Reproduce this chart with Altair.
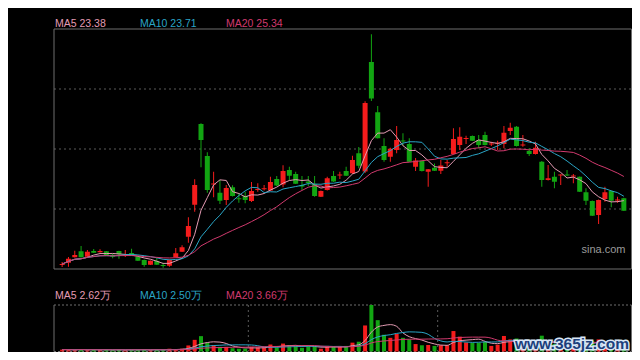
import altair as alt
import pandas as pd

# ---- data ----
OPEN = [18.12,18.30,18.74,19.22,18.78,19.24,19.14,19.22,18.94,19.24,
        18.84,19.08,18.78,18.52,18.14,18.44,18.12,18.06,18.74,19.18,
        20.38,22.94,29.40,26.84,24.56,23.90,23.32,24.34,23.46,23.64,
        23.24,24.12,24.18,24.08,25.00,24.56,25.72,25.40,24.52,24.80,
        24.60,23.58,24.12,25.24,25.28,25.64,25.46,27.06,25.60,34.36,
        30.34,27.64,26.78,27.32,28.08,27.80,25.98,26.44,25.58,25.90,
        25.66,26.26,27.00,27.72,28.20,28.44,28.12,28.52,27.76,27.82,
        27.80,28.84,29.18,27.68,27.24,27.00,26.38,24.92,25.18,25.28,
        25.36,25.20,25.18,23.94,23.24,22.12,23.40,24.04,23.28,23.46]
CLOSE = [18.20,18.62,18.92,18.74,19.18,19.10,19.24,18.92,18.78,18.98,
         18.92,18.94,18.46,18.12,18.46,18.14,18.04,18.52,19.06,19.54,
         21.24,24.52,28.12,24.12,24.64,23.26,24.28,23.64,23.38,23.32,
         24.04,24.20,24.26,24.76,24.48,25.64,25.26,24.62,24.40,24.68,
         23.64,24.04,25.06,24.80,25.36,25.26,26.52,26.06,31.08,31.44,
         28.26,26.52,27.42,28.12,28.00,26.38,26.48,25.64,25.78,25.66,
         26.08,26.34,28.20,28.38,28.28,28.06,27.72,27.72,27.84,27.90,
         28.70,29.10,27.64,27.76,27.00,27.50,24.92,25.06,24.78,25.36,
         25.28,25.28,23.98,23.26,22.06,23.32,23.94,23.26,23.36,22.46]
HIGH = [18.36,18.76,19.26,19.64,19.32,19.40,19.38,19.24,19.00,19.26,
        19.32,19.42,18.80,18.56,18.48,18.68,18.30,18.56,19.48,19.70,
        21.94,24.98,29.46,27.14,25.58,24.92,24.52,24.50,23.86,23.98,
        24.76,24.66,24.52,25.18,25.24,26.10,25.98,25.58,25.24,25.24,
        25.24,24.08,25.18,25.64,25.58,25.98,26.86,27.56,31.22,36.58,
        30.84,28.26,27.50,29.24,28.66,28.26,26.68,26.48,25.80,26.24,
        26.52,26.52,29.06,29.14,28.46,28.48,28.52,28.78,27.98,28.06,
        29.24,29.50,29.24,28.52,27.46,27.98,26.44,26.12,25.58,25.38,
        25.72,25.40,25.20,24.26,23.28,23.36,24.38,24.08,23.58,23.50]
LOW = [17.96,17.98,18.72,18.72,18.76,19.08,19.12,18.90,18.66,18.62,
       18.76,18.92,18.44,17.98,18.12,18.12,17.90,17.98,18.72,19.16,
       19.90,22.38,25.94,23.90,23.54,23.00,22.92,23.60,23.10,23.06,
       23.16,23.98,24.08,24.04,24.44,24.34,24.86,24.60,24.12,24.44,
       23.58,23.56,24.08,24.76,25.00,25.24,25.40,25.86,25.48,31.24,
       28.24,26.38,26.38,27.06,27.68,26.36,25.64,25.60,24.38,25.64,
       25.40,25.98,26.96,27.32,27.80,28.04,27.46,27.68,27.64,27.32,
       27.46,28.52,27.60,27.58,26.84,26.96,24.38,24.88,24.26,24.52,
       25.24,24.66,23.96,22.92,22.04,21.40,23.18,22.74,23.10,22.44]
VOL = [0.54,0.54,0.41,0.68,0.41,0.54,0.41,0.54,0.41,0.54,
       0.41,0.54,0.54,0.54,0.41,0.54,0.41,0.81,0.68,0.81,
       1.76,3.38,4.46,2.57,1.89,1.35,1.35,0.95,0.81,0.81,
       1.35,1.22,1.22,2.03,1.08,2.30,1.89,1.62,1.08,1.49,
       1.35,0.81,1.62,1.35,1.35,1.62,2.57,2.84,7.56,13.50,
       9.10,4.86,3.97,5.13,3.97,3.51,2.16,1.81,1.89,1.62,
       1.81,1.81,5.94,4.32,2.62,2.51,2.51,2.78,1.62,1.97,
       4.51,3.51,3.78,2.16,1.89,2.43,4.59,2.43,2.16,1.89,
       1.89,1.89,2.43,2.43,3.11,3.51,2.43,2.43,2.16,2.57]
GRID_PRICES = [22.6, 27.4, 32.2]
MONTH_BREAKS = [29.5, 59.5]
PRICE_TITLES = ["MA5 23.38", "MA10 23.71", "MA20 25.34"]
VOL_TITLES = ["MA5 2.62万", "MA10 2.50万", "MA20 3.66万"]
MA_PERIODS = [5, 10, 20]

# ---- styles ----
RED = "#f51c1c"
GREEN = "#12a512"
MA_COLORS = ["#e49bb3", "#2aa5c6", "#d13a6e"]
FRAME = "#6e6e6e"
GRID = "#5a5a5a"
FONT = "Liberation Sans"
W, H = 578, 323
PH = 240            # price panel height
VT, VB = 276, 322.5 # volume panel top / bottom
XR = W - 0.5        # right frame line

N = len(OPEN)
df = pd.DataFrame({"i": list(range(N)), "o": OPEN, "h": HIGH, "l": LOW,
                   "c": CLOSE, "v": VOL})
dummy = pd.DataFrame({"k": [0]})

xs = alt.Scale(domain=[-0.5, N - 0.5], nice=False, zero=False)
ps = alt.Scale(domain=[17.8, 37.0], range=[PH, 0], nice=False, zero=False)
vs = alt.Scale(domain=[0, 13.5], range=[VB, VT], nice=False, zero=False)
X = alt.X("i:Q", scale=xs, axis=None)
updown = alt.condition("datum.c >= datum.o", alt.value(RED), alt.value(GREEN))

base = alt.Chart(df)
layers = []

# grid + frames
layers.append(alt.Chart(pd.DataFrame({"p": GRID_PRICES})).mark_rule(
    color=GRID, strokeWidth=1, strokeDash=[2, 3]).encode(
    y=alt.Y("p:Q", scale=ps, axis=None), x=alt.value(0), x2=alt.value(XR)))
layers.append(alt.Chart(pd.DataFrame({"m": MONTH_BREAKS})).mark_rule(
    color=GRID, strokeWidth=1, strokeDash=[2, 3]).encode(
    x=alt.X("m:Q", scale=xs, axis=None), y=alt.value(VT), y2=alt.value(VB)))

def hline(y, dash=None):
    kw = {"strokeDash": dash} if dash else {}
    return alt.Chart(dummy).mark_rule(color=FRAME, strokeWidth=1, **kw).encode(
        x=alt.value(0), x2=alt.value(XR), y=alt.value(y))

def vline(x, y1, y2):
    return alt.Chart(dummy).mark_rule(color=FRAME, strokeWidth=1).encode(
        x=alt.value(x), y=alt.value(y1), y2=alt.value(y2))

layers += [hline(0), hline(PH), vline(0, 0, PH), vline(XR, 0, PH),
           hline(VT, [2, 2]), hline(VB, [2, 2]), vline(0, VT, VB), vline(XR, VT, VB)]

# candles
layers.append(base.mark_rule(strokeWidth=1).encode(
    x=X, y=alt.Y("l:Q", scale=ps, axis=None), y2="h:Q", color=updown))
layers.append(base.mark_bar(width=5).encode(
    x=X, y=alt.Y("o:Q", scale=ps, axis=None), y2="c:Q", color=updown))

# volume bars
layers.append(base.mark_bar(width=4).encode(
    x=X, y=alt.Y("v:Q", scale=vs, axis=None), color=updown))

def ma(n, field, scale, color, interp):
    name = f"ma{n}{field}"
    return base.transform_window(
        **{name: f"mean({field})"}, frame=[-(n - 1), 0], sort=[alt.SortField("i")]
    ).mark_line(color=color, strokeWidth=1, interpolate=interp).encode(
        x=X, y=alt.Y(f"{name}:Q", scale=scale, axis=None))

for n, col in zip(MA_PERIODS, MA_COLORS):
    layers.append(ma(n, "c", ps, col, "linear"))
for n, col in zip(MA_PERIODS, MA_COLORS):
    layers.append(ma(n, "v", vs, col, "monotone"))

# texts
def label(txt, x, y, color, size=10.5, **kw):
    return alt.Chart(dummy).mark_text(text=txt, align="left", baseline="alphabetic",
                                      font=FONT, fontSize=size, color=color, **kw).encode(
        x=alt.value(x), y=alt.value(y))

title_x = [1, 86, 172]
for t, x, col in zip(PRICE_TITLES, title_x, MA_COLORS):
    layers.append(label(t, x, -1.7, col))
for t, x, col in zip(VOL_TITLES, title_x, MA_COLORS):
    layers.append(label(t, x, 269.7, col))
layers.append(label("sina.com", 527.5, 224.3, "#9a9a9a", size=11))

# watermark
WM = dict(text="www.365jz.com", align="center", baseline="middle", font=FONT,
          fontSize=15.5, fontWeight="bold")
layers.append(alt.Chart(dummy).mark_text(
    stroke="#d8e6f5", strokeWidth=3, color="#d8e6f5", **WM).encode(
    x=alt.value(518), y=alt.value(315)))
layers.append(alt.Chart(dummy).mark_text(color="#1d3f7c", **WM).encode(
    x=alt.value(518), y=alt.value(315)))

chart = alt.layer(*layers).resolve_scale(y="independent").properties(
    width=W, height=H,
    autosize=alt.AutoSizeParams(type="none"),
    padding={"left": 46, "top": 21, "right": 0, "bottom": 0},
    background="#000000",
).configure_view(stroke=None)

chart.save("out.html", embed_options={"renderer": "svg", "actions": False})
